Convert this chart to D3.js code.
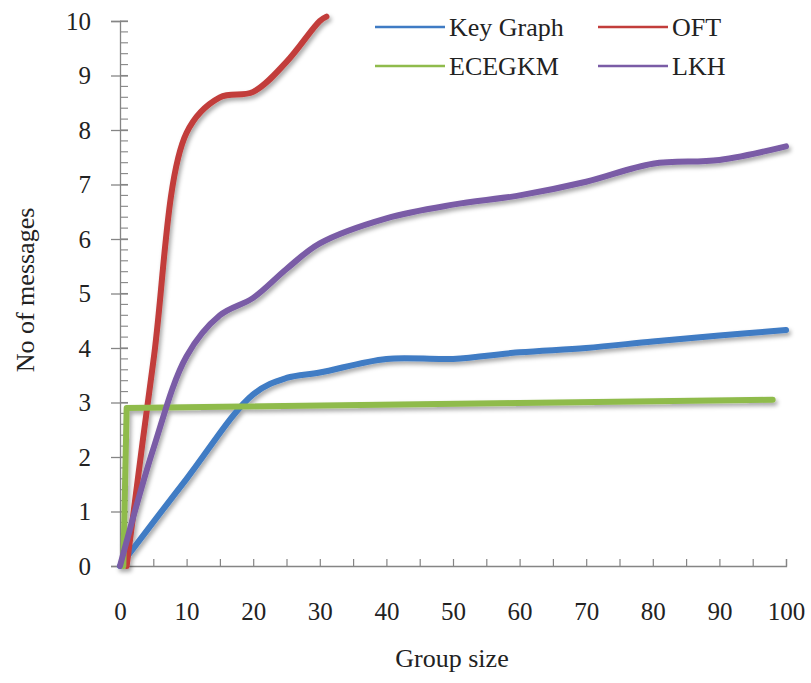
<!DOCTYPE html>
<html>
<head>
<meta charset="utf-8">
<script src="https://cdn.jsdelivr.net/npm/d3@7"></script>
<style>
  html, body { margin: 0; padding: 0; background: #fff; }
  svg { display: block; }
  svg text { font-family: "Liberation Serif", "DejaVu Serif", "Times New Roman", serif !important; fill: #222; }
</style>
</head>
<body>
<svg id="chart" width="811" height="683"></svg>
<script>
// Number of rekeying messages against group size
const seriesNames = ["Key Graph", "OFT", "ECEGKM", "LKH"];
const seriesColors = ["#3f7bc4", "#c23d3b", "#8fbb4c", "#7a5ca6"];

const keyGraphX = [0, 10, 20, 25, 30, 40, 50, 60, 70, 80, 90, 100];
const keyGraphY = [0, 1.6, 3.15, 3.45, 3.55, 3.8, 3.8, 3.92, 4.0, 4.12, 4.23, 4.33];

const oftX = [1, 5, 10, 15, 20, 25, 30, 31];
const oftY = [0, 3.75, 7.95, 8.6, 8.7, 9.25, 10.0, 10.08];

const ecegkmX = [0.5, 1, 98];
const ecegkmY = [0, 2.9, 3.05];

const lkhX = [0, 5, 10, 15, 20, 25, 30, 40, 50, 60, 70, 80, 90, 100];
const lkhY = [0, 2.15, 3.85, 4.6, 4.92, 5.45, 5.92, 6.38, 6.63, 6.8, 7.05, 7.38, 7.45, 7.7];

const xTickLabels = [0, 10, 20, 30, 40, 50, 60, 70, 80, 90, 100];
const yTickLabels = [0, 1, 2, 3, 4, 5, 6, 7, 8, 9, 10];

const xTitle = "Group size";
const yTitle = "No of messages";

const series = [
  { name: seriesNames[0], color: seriesColors[0], xs: keyGraphX, ys: keyGraphY, smooth: true },
  { name: seriesNames[1], color: seriesColors[1], xs: oftX, ys: oftY, smooth: true },
  { name: seriesNames[2], color: seriesColors[2], xs: ecegkmX, ys: ecegkmY, smooth: false },
  { name: seriesNames[3], color: seriesColors[3], xs: lkhX, ys: lkhY, smooth: true }
];

const FONT = '"Liberation Serif", "DejaVu Serif", "Times New Roman", serif';

const svg = d3.select("#chart").attr("font-family", FONT);

const x = d3.scaleLinear().domain([0, 100]).range([120, 786]);
const y = d3.scaleLinear().domain([0, 10]).range([566, 21]);

// soft drop shadow under the data lines
const defs = svg.append("defs");
const f = defs.append("filter").attr("id", "shadow")
  .attr("x", "-10%").attr("y", "-10%").attr("width", "130%").attr("height", "130%");
f.append("feDropShadow").attr("dx", 2).attr("dy", 3).attr("stdDeviation", 2)
  .attr("flood-color", "#000").attr("flood-opacity", 0.35);

const axisColor = "#858585";

// y axis: major ticks crossing the line, minor ticks every 0.2 on the inside
const yAxis = svg.append("g").attr("transform", `translate(${x(0)},0)`)
  .call(d3.axisLeft(y).tickValues(yTickLabels).tickSize(9).tickPadding(20).tickFormat(d3.format("d")));
yAxis.attr("font-family", FONT);
yAxis.select(".domain").attr("stroke", axisColor).attr("stroke-width", 1.3);
yAxis.selectAll(".tick line").attr("stroke", axisColor).attr("stroke-width", 1.3).attr("x2", -9).attr("x1", 8);
yAxis.selectAll(".tick text").attr("font-size", 25).attr("font-family", FONT).attr("fill", "#222");
const yMinor = d3.range(0, 10.001, 0.2);
svg.append("g").selectAll("line").data(yMinor).join("line")
  .attr("x1", x(0)).attr("x2", x(0) + 8)
  .attr("y1", d => y(d)).attr("y2", d => y(d))
  .attr("stroke", axisColor).attr("stroke-width", 1.1);

// x axis: ticks every 5, labels every 10
const xAxis = svg.append("g").attr("transform", `translate(0,${y(0)})`)
  .call(d3.axisBottom(x).tickValues(d3.range(0, 101, 5)).tickSize(-7).tickPadding(0)
    .tickFormat(d => xTickLabels.includes(d) ? d : ""));
xAxis.attr("font-family", FONT);
xAxis.select(".domain").attr("stroke", axisColor).attr("stroke-width", 1.3);
xAxis.selectAll(".tick line").attr("stroke", axisColor).attr("stroke-width", 1.2);
xAxis.selectAll(".tick text").attr("font-size", 25).attr("font-family", FONT)
  .attr("fill", "#222").attr("dy", null).attr("y", 54);

// data lines
const plot = svg.append("g").attr("filter", "url(#shadow)");
series.forEach(s => {
  const pts = s.xs.map((v, i) => [v, s.ys[i]]);
  const line = d3.line().x(d => x(d[0])).y(d => y(d[1]))
    .curve(s.smooth ? d3.curveCatmullRom.alpha(0.5) : d3.curveLinear);
  plot.append("path").datum(pts)
    .attr("d", line)
    .attr("fill", "none")
    .attr("stroke", s.color)
    .attr("stroke-width", 6)
    .attr("stroke-linecap", "round")
    .attr("stroke-linejoin", "round");
});

// axis titles
svg.append("text").attr("x", 452).attr("y", 667).attr("text-anchor", "middle")
  .attr("font-size", 26).attr("font-family", FONT).text(xTitle);
svg.append("text").attr("transform", "translate(34,290) rotate(-90)")
  .attr("text-anchor", "middle").attr("font-size", 26).attr("font-family", FONT).text(yTitle);

// legend, two columns by two rows
const legendPos = [[375, 27], [598, 27], [375, 66], [598, 66]];
const legend = svg.append("g");
series.forEach((s, i) => {
  const [lx, ly] = legendPos[i];
  legend.append("line").attr("x1", lx).attr("x2", lx + 70).attr("y1", ly).attr("y2", ly)
    .attr("stroke", s.color).attr("stroke-width", 2.5);
  legend.append("text").attr("x", lx + 74).attr("y", ly + 9)
    .attr("font-size", 26).attr("font-family", FONT).text(s.name);
});
</script>
</body>
</html>
